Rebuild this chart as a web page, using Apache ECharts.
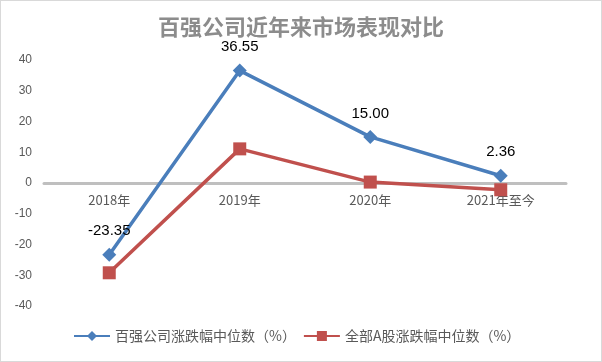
<!DOCTYPE html>
<html><head><meta charset="utf-8">
<script src="https://cdn.jsdelivr.net/npm/echarts@6/dist/echarts.min.js"></script>
<style>html,body{margin:0;padding:0;background:#fff}#c{width:600px;height:360px;border:1px solid #d9d9d9}</style>
</head><body><div id="c"></div>
<script>
var categories = ['2018年', '2019年', '2020年', '2021年至今'];
var topCompanies = [-23.35, 36.55, 15.00, 2.36];
var allAShares = [-29.2, 11.1, 0.3, -2.2];
var yTicks = [-40, 40, 10];
var gridTop = 59, gridBottom = 55, H = 360;
var chart = echarts.init(document.getElementById('c'));
chart.setOption({
  animation: false,
  title: {text: '百强公司近年来市场表现对比', left: 'center', top: 10,
    textStyle: {fontFamily: 'Noto Sans CJK SC', fontSize: 22, fontWeight: 'bold', color: '#8c8c8c'}},
  grid: {left: 43, right: 35, top: gridTop, bottom: gridBottom},
  legend: {bottom: 13, left: 68, itemGap: 8, itemWidth: 36, itemHeight: 10,
    textStyle: {fontFamily: 'Noto Sans CJK SC', fontSize: 14, color: '#595959'},
    data: [{name: '百强公司涨跌幅中位数（%）', icon: 'path://M0,4 L14,4 L18,0 L22,4 L36,4 L36,6 L22,6 L18,10 L14,6 L0,6 Z'},
           {name: '全部A股涨跌幅中位数（%）', icon: 'path://M0,4 L13,4 L13,0 L23,0 L23,4 L36,4 L36,6 L23,6 L23,10 L13,10 L13,6 L0,6 Z'}]},
  xAxis: {type: 'category', data: categories, boundaryGap: true,
    axisLine: {onZero: false, lineStyle: {color: '#bfbfbf', width: 3}},
    offset: -(H - gridTop - gridBottom) / 2,
    axisTick: {show: false},
    axisLabel: {margin: 11, fontFamily: 'Noto Sans CJK SC', fontSize: 13, color: '#595959'}},
  yAxis: {type: 'value', min: yTicks[0], max: yTicks[1], interval: yTicks[2],
    axisLine: {show: false}, axisTick: {show: false}, splitLine: {show: false},
    axisLabel: {margin: 12, fontFamily: 'Liberation Sans', fontSize: 12, color: '#595959'}},
  series: [
    {name: '百强公司涨跌幅中位数（%）', type: 'line', data: topCompanies,
     symbol: 'diamond', symbolSize: 14, itemStyle: {color: '#4a7ebb'},
     lineStyle: {width: 3.5, color: '#4a7ebb'},
     label: {show: true, position: 'top', distance: 9, fontFamily: 'Liberation Sans', fontSize: 15, color: '#000',
       formatter: function(p){return p.value.toFixed(2);}}},
    {name: '全部A股涨跌幅中位数（%）', type: 'line', data: allAShares,
     symbol: 'rect', symbolSize: 13, itemStyle: {color: '#c0504d'},
     lineStyle: {width: 3.5, color: '#c0504d'}}
  ]
});
</script></body></html>
